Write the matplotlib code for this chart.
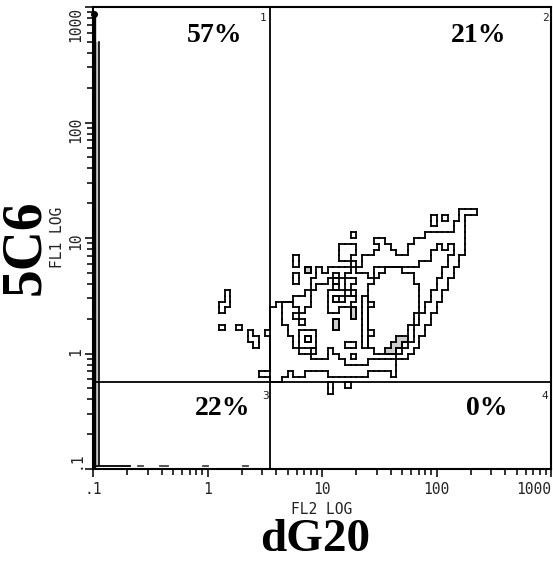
import numpy as np
import matplotlib.pyplot as plt
from matplotlib.collections import LineCollection
from matplotlib.colors import ListedColormap
from matplotlib.ticker import FixedLocator, NullFormatter

# FL2 (x) vs FL1 (y) contour map, one char per 0.05-decade cell
# '.' = under the first contour, 1..4 = highest contour level reached
CELL = 0.05
GRID_LOG_X0 = 0.0   # left edge of column 0, log10(FL2)
GRID_LOG_Y1 = 1.3   # top edge of row 0, log10(FL1)
density_rows = [
    ".........." ".........." ".........." ".........." "........",
    ".........." ".........." ".........." ".........." "....111.",
    ".........." ".........." ".........." ".........1" ".1..1...",
    ".........." ".........." ".........." ".........1" "...11...",
    ".........." ".........." ".........." ".........." "...11...",
    ".........." ".........." ".....1...." "........11" "11111...",
    ".........." ".........." ".........1" "1.....1111" "11111...",
    ".........." ".........." "...111...." "11...11111" "21211...",
    ".........." ".........." "...111...1" "111..11112" "22211...",
    ".........." ".....1...." "...11..111" "1111111112" "2211....",
    ".........." ".....1...." ".....1.111" "1111111222" "2211....",
    ".........." ".......4.1" ".111121112" "2333222222" "211.....",
    ".........." ".....1...1" "11.1222212" "3333332222" "211.....",
    ".........." ".....1..11" "1232112223" "3333332222" "11......",
    ".........." "........12" "2212122233" "3333333222" "11......",
    "...1......" ".......122" "2333212233" "3333333221" "1.......",
    "...1......" ".....11122" "2312332133" "3333333221" "1.......",
    "..11......" "..12211122" "2333322123" "3333333211" "........",
    "..1......." ".112221222" "2332242133" "3333333211" "........",
    ".........." ".112212222" "2222242133" "333333211." "........",
    ".........." ".112223222" "2242222133" "333333211." "........",
    "..1..1...." ".111222222" "2242222133" "33333211.." "........",
    ".......1.." "1111223332" "2222222123" "33333211.." "........",
    ".......11." ".111123132" "2222222133" "3334421..." "........",
    "........1." ".111123332" "2222112133" "3344211..." "........",
    ".........." ".111112212" "2122222223" "344211...." "........",
    ".........." ".111111122" "2112232222" "22211....." "........",
    ".........." ".111111111" "1111222211" "111......." "........",
    ".........." ".111111111" "1111111111" "111......." "........",
    ".........1" "1111.11..." ".1111111.." "..1......." "........",
    ".........." ".11......." ".........." ".........." "........",
    ".........." ".........." ".1..1....." ".........." "........",
    ".........." ".........." ".1........" ".........." "........",
    ".........." ".........." ".........." ".........." "........",
]

# events piled on the low edge of FL2 (left) and FL1 (bottom)
pile_x = [0.1025, 0.1128]
pile_bottom = [0.1, 0.108]
pile_top = [870, 500]
pile_gray_x = [0.104, 0.112]
pile_gray_top = 500
floor_x = [0.104, 0.21]
floor_y = 0.106
floor_dashes = [(0.247, 0.274), (0.385, 0.452), (0.914, 1.01), (2.04, 2.26)]

# quadrant gates
gate_fl2 = 3.5
gate_fl1 = 0.57
quad_pct = [57, 21, 22, 0]
quad_ids = ["1", "2", "3", "4"]

decade_ticks = [0.1, 1, 10, 100, 1000]
decade_labels = [".1", "1", "10", "100", "1000"]

grid = np.array([[0 if ch == "." else int(ch) for ch in row.ljust(48, ".")[:48]]
                 for row in density_rows])
nrows, ncols = grid.shape


def level_segments(level):
    m = np.pad(grid >= level, 1)
    segs = []
    # horizontal cell edges
    dh = m[1:, 1:-1] != m[:-1, 1:-1]
    for r, c in zip(*np.nonzero(dh)):
        y = GRID_LOG_Y1 - r * CELL
        x0 = GRID_LOG_X0 + c * CELL
        segs.append([(x0, y), (x0 + CELL, y)])
    # vertical cell edges
    dv = m[1:-1, 1:] != m[1:-1, :-1]
    for r, c in zip(*np.nonzero(dv)):
        x = GRID_LOG_X0 + c * CELL
        y0 = GRID_LOG_Y1 - r * CELL
        segs.append([(x, y0), (x, y0 - CELL)])
    return 10.0 ** np.array(segs)


fig = plt.figure(figsize=(5.53, 5.63), dpi=100)
ax = fig.add_axes([93 / 553, 1 - 469 / 563, 458 / 553, 462 / 563])
ax.set_xscale("log")
ax.set_yscale("log")
ax.set_xlim(0.1, 1000)
ax.set_ylim(0.1, 1000)

# gray fill in the densest cells
xe = 10.0 ** (GRID_LOG_X0 + CELL * np.arange(ncols + 1))
ye = 10.0 ** (GRID_LOG_Y1 - CELL * np.arange(nrows + 1))
ax.pcolormesh(xe, ye, np.ma.masked_less(grid, 4),
              cmap=ListedColormap(["#cdcdcd"]), shading="flat", zorder=1)

for lev in range(1, 5):
    lc = LineCollection(level_segments(lev), colors="black", linewidths=1.3,
                        capstyle="projecting", zorder=2)
    ax.add_collection(lc)

# pile-up along the axes
ax.fill_betweenx([pile_bottom[1], pile_gray_top], pile_gray_x[0], pile_gray_x[1],
                 color="#c8c8c8", lw=0, zorder=1)
ax.plot([pile_x[0], pile_x[0]], [pile_bottom[0], pile_top[0]], color="black",
        lw=2.4, solid_capstyle="butt", zorder=3, clip_on=False)
ax.plot([pile_x[1], pile_x[1]], [pile_bottom[1], pile_top[1]], color="black",
        lw=1.2, zorder=3)
ax.plot([pile_x[0]], [pile_top[0]], "o", color="black", ms=4, zorder=3,
        clip_on=False)
ax.plot(floor_x, [floor_y, floor_y], color="black", lw=1.3, zorder=3)
for a, b in floor_dashes:
    ax.plot([a, b], [floor_y, floor_y], color="#444444", lw=1.3, zorder=3)

# quadrant gates
ax.axvline(gate_fl2, color="black", lw=1.3, zorder=4)
ax.axhline(gate_fl1, color="black", lw=1.3, zorder=4)

pct_pos = [(0.266, 0.939), (0.841, 0.939), (0.282, 0.132), (0.860, 0.132)]
id_pos = [(0.371, 0.976), (0.987, 0.976), (0.376, 0.158), (0.987, 0.158)]
for p, pos in zip(quad_pct, pct_pos):
    ax.text(pos[0], pos[1], f"{p}%", transform=ax.transAxes, ha="center",
            va="center", fontsize=20, fontweight="bold",
            family="Liberation Serif", zorder=5)
for q, pos in zip(quad_ids, id_pos):
    ax.text(pos[0], pos[1], q, transform=ax.transAxes, ha="center",
            va="center", fontsize=8, family="DejaVu Sans Mono",
            color="#222222", zorder=5)

# axes frame and ticks
for sp in ax.spines.values():
    sp.set_linewidth(1.5)
minor = [d * k for d in decade_ticks[:-1] for k in range(2, 10)]
for axis in (ax.xaxis, ax.yaxis):
    axis.set_major_locator(FixedLocator(decade_ticks))
    axis.set_minor_locator(FixedLocator(minor))
    axis.set_minor_formatter(NullFormatter())
ax.set_xticklabels(decade_labels)
ax.set_yticklabels(decade_labels, rotation=90)
ax.tick_params(which="both", direction="out", width=1.3, color="#222222",
               top=False, right=False)
ax.tick_params(which="major", length=5.5, labelsize=10.5, labelcolor="#222222")
ax.tick_params(which="minor", length=4.5)
ax.tick_params(axis="x", which="major", pad=4)
ax.tick_params(axis="y", which="major", pad=1.5)
for lab in ax.get_xticklabels() + ax.get_yticklabels():
    lab.set_family("DejaVu Sans Mono")
ax.get_xticklabels()[-1].set_horizontalalignment("right")
ylabs = ax.get_yticklabels()
ylabs[0].set_verticalalignment("bottom")
ylabs[-1].set_verticalalignment("top")
for lab in ylabs:
    lab.set_horizontalalignment("right")

fig.text(322 / 553, 1 - 510 / 563, "FL2 LOG", ha="center", va="center",
         fontsize=10.5, family="DejaVu Sans Mono", color="#222222")
fig.text(57 / 553, 1 - 237 / 563, "FL1 LOG", ha="center", va="center",
         fontsize=10.5, family="DejaVu Sans Mono", color="#222222", rotation=90)
fig.text(315 / 553, 1 - 540 / 563, "dG20", ha="center", va="center",
         fontsize=34, fontweight="bold", family="Liberation Serif")
fig.text(25 / 553, 1 - 247 / 563, "5C6", ha="center", va="center",
         fontsize=40, fontweight="bold", family="Liberation Serif", rotation=90)

fig.savefig("out.png", dpi=100, facecolor="white")
